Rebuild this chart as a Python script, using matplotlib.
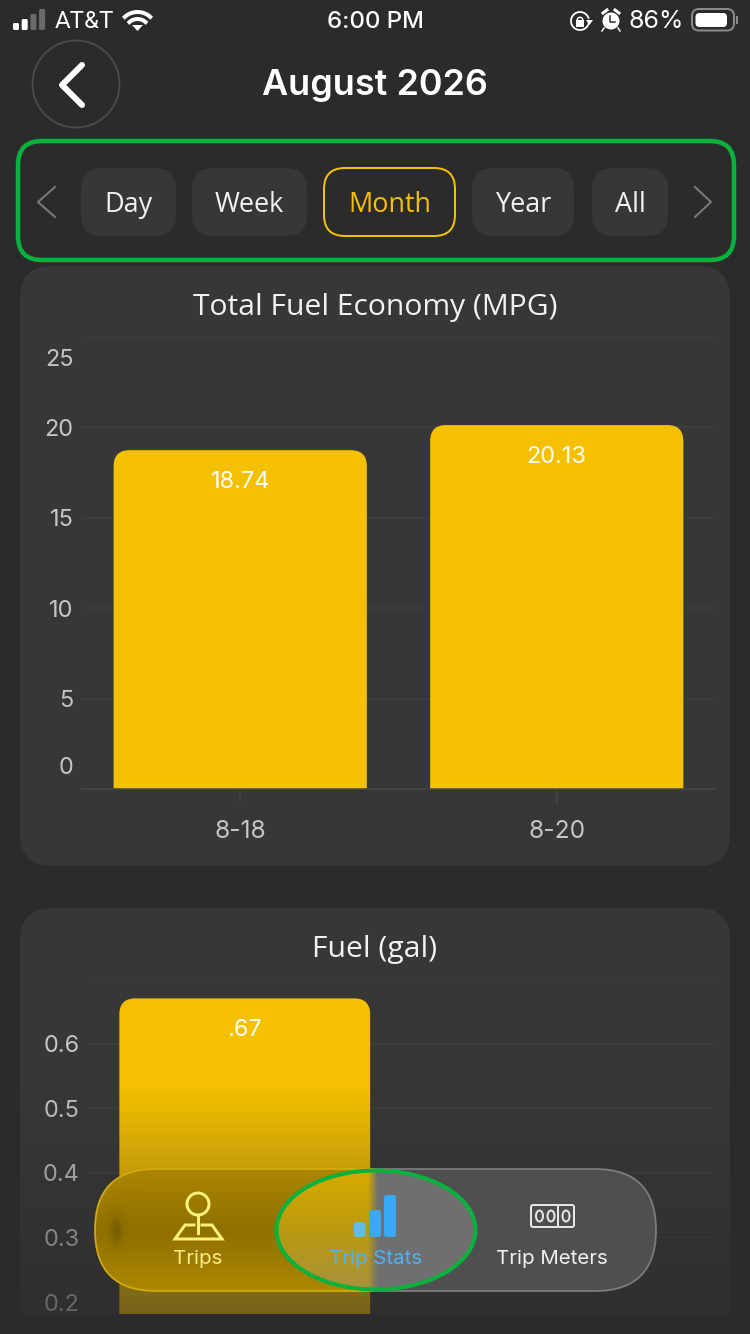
import matplotlib
matplotlib.use("Agg")
import matplotlib.pyplot as plt
from matplotlib.patches import Circle, Ellipse, FancyBboxPatch, PathPatch, Polygon, Rectangle
from matplotlib.path import Path
from matplotlib.transforms import ScaledTranslation
import numpy as np

W, H = 750, 1334
DPI = 100

BG = "#2b2b2b"
CARD = "#373737"
GRID = "#404040"
AXIS = "#464646"
YELLOW = "#f5c000"
GREEN = "#08b23c"
BLUE = "#38a8fb"

# chart data
mpg_dates = ["8-18", "8-20"]
mpg_values = [18.74, 20.13]
mpg_labels = ["18.74", "20.13"]
mpg_ticks = [0, 5, 10, 15, 20, 25]

fuel_dates = ["8-18"]
fuel_values = [0.67]
fuel_labels = [".67"]
fuel_ticks = [0.2, 0.3, 0.4, 0.5, 0.6, 0.7]
fuel_tick_labels = ["0.2", "0.3", "0.4", "0.5", "0.6", ""]

period_names = ["Day", "Week", "Month", "Year", "All"]
nav_names = ["Trips", "Trip Stats", "Trip Meters"]

INTER = ["Inter", "Roboto", "DejaVu Sans"]
ROBOTO = ["Roboto", "DejaVu Sans"]
OPEN = ["Open Sans", "DejaVu Sans"]


def pt(px):
    return px * 72 / DPI


def axes_from_px(fig, left, top, right, bottom, **kwargs):
    return fig.add_axes(
        [left / W, 1 - bottom / H, (right - left) / W, (bottom - top) / H], **kwargs
    )


def rounded_box(ax, x0, y0, x1, y1, r, **kwargs):
    box = FancyBboxPatch(
        (x0, y0), x1 - x0, y1 - y0, boxstyle=f"round,pad=0,rounding_size={r}", **kwargs
    )
    ax.add_patch(box)
    return box


def rounded_bar(ax, x, width, value, radius_px, color):
    # top corners only, radius given in pixels so it stays circular
    to_px = ax.transData.transform
    sx = abs(to_px((1, 0))[0] - to_px((0, 0))[0])
    sy = abs(to_px((0, 1))[1] - to_px((0, 0))[1])
    rx, ry = radius_px / sx, radius_px / sy
    x0, x1 = x - width / 2, x + width / 2
    base = ax.get_ylim()[0]
    verts = [
        (x0, base), (x0, value - ry), (x0, value), (x0 + rx, value),
        (x1 - rx, value), (x1, value), (x1, value - ry), (x1, base), (x0, base),
    ]
    codes = [
        Path.MOVETO, Path.LINETO, Path.CURVE3, Path.CURVE3,
        Path.LINETO, Path.CURVE3, Path.CURVE3, Path.LINETO, Path.CLOSEPOLY,
    ]
    ax.add_patch(PathPatch(Path(verts, codes), facecolor=color, edgecolor="none"))


def style_chart(ax, ticks, tick_labels):
    ax.patch.set_alpha(0)
    for name in ["top", "left", "right"]:
        ax.spines[name].set_visible(False)
    ax.set_yticks(ticks, labels=tick_labels)
    ax.tick_params(axis="y", length=0, pad=pt(8.5), labelsize=pt(23.5), labelcolor="#c6c6c6")
    ax.grid(axis="y", color=GRID, linewidth=pt(1.5))
    ax.set_axisbelow(True)
    for label in ax.get_yticklabels():
        label.set_family(INTER)


def draw_bars(ax, values, labels, width):
    for i, value in enumerate(values):
        rounded_bar(ax, i, width, value, 16, YELLOW)
        ax.annotate(
            labels[i], (i, value), xytext=(0, -32), textcoords="offset pixels",
            ha="center", va="center", color="white", fontsize=pt(23.5), family=INTER,
        )


fig = plt.figure(figsize=(W / DPI, H / DPI), dpi=DPI, facecolor=BG)

# cards go underneath the charts
back = fig.add_axes([0, 0, 1, 1], zorder=0)
back.set_xlim(0, W)
back.set_ylim(H, 0)
back.axis("off")
rounded_box(back, 20, 266, 730, 866, 32, facecolor=CARD, edgecolor="none")
rounded_box(back, 20, 908, 730, 1400, 32, facecolor=CARD, edgecolor="none")
back.text(375, 307, "Total Fuel Economy (MPG)", ha="center", va="center",
          color="#f2f2f2", fontsize=pt(30), family=OPEN)
back.text(375, 949, "Fuel (gal)", ha="center", va="center",
          color="#f2f2f2", fontsize=pt(30), family=OPEN)

# first chart
ax1 = axes_from_px(fig, 82, 337, 715, 789, zorder=1)
ax1.set_xlim(-0.5, 1.5)
ax1.set_ylim(0, 25)
style_chart(ax1, mpg_ticks, [str(t) for t in mpg_ticks])
ax1.spines["bottom"].set_color(AXIS)
ax1.spines["bottom"].set_linewidth(pt(1.5))
ax1.set_xticks(range(len(mpg_dates)), labels=mpg_dates)
ax1.tick_params(axis="x", length=pt(14), width=pt(1.5), color=AXIS, pad=pt(17),
                labelsize=pt(24.5), labelcolor="#c6c6c6")
for label in ax1.get_xticklabels():
    label.set_family(INTER)
# the end labels sit inside the axis range
labels1 = ax1.get_yticklabels()
labels1[0].set_transform(labels1[0].get_transform() + ScaledTranslation(0, 24 / DPI, fig.dpi_scale_trans))
labels1[-1].set_transform(labels1[-1].get_transform() + ScaledTranslation(0, -21 / DPI, fig.dpi_scale_trans))
draw_bars(ax1, mpg_values, mpg_labels, 0.8)

# second chart, cut off at the bottom of the screen
ax2 = axes_from_px(fig, 88, 979, 715, 1314, zorder=1)
ax2.set_xlim(-0.5, 1.5)
ax2.set_ylim(0.6 - (1314 - 1043) / 647.5, 0.7)
style_chart(ax2, fuel_ticks, fuel_tick_labels)
ax2.spines["bottom"].set_visible(False)
ax2.set_xticks([])
draw_bars(ax2, fuel_values, fuel_labels, 0.8)

# everything on top: fade, nav pill, header
ui = fig.add_axes([0, 0, 1, 1], zorder=2)
ui.patch.set_alpha(0)
ui.axis("off")

fade = np.zeros((229, 1, 4))
fade[:, 0, :3] = matplotlib.colors.to_rgb(BG)
fade[:, 0, 3] = np.linspace(0, 0.64, 229)
ui.imshow(fade, extent=(20, 730, 1314, 1085), aspect="auto", zorder=1)
ui.add_patch(Rectangle((0, 1314), W, 20, facecolor=BG, edgecolor="none", zorder=2))


def glass_image(x0, x1, y0, y1, gold_top, gold_mid, gold_bot, gray, split=373):
    nx, ny = int(x1 - x0), int(y1 - y0)
    xs = np.linspace(x0, x1, nx)
    t = np.linspace(0, 1, ny)[:, None]
    top, mid, bot = [np.array(matplotlib.colors.to_rgb(c)) for c in (gold_top, gold_mid, gold_bot)]
    gold = np.where(t < 0.5, top + (mid - top) * t * 2, mid + (bot - mid) * (t - 0.5) * 2)
    right = np.array(matplotlib.colors.to_rgb(gray))
    mix = np.clip((xs - split) / 10 + 0.5, 0, 1)[None, :, None]
    return gold[:, None, :] * (1 - mix) + right[None, None, :] * mix


pill_rgb = glass_image(95, 656, 1169, 1291, "#ab8600", "#8f7000", "#ad8800", "#4f4f4f")
# dark smudge where the bar edge shows through the glass
xx, yy = np.meshgrid(np.arange(pill_rgb.shape[1]) + 95, np.arange(pill_rgb.shape[0]) + 1169)
smudge = 1 - 0.16 * np.exp(-((xx - 116) / 6.0) ** 2 - ((yy - 1230) / 16.0) ** 2)
pill_rgb = pill_rgb * smudge[:, :, None]

pill = rounded_box(ui, 95, 1169, 656, 1291, 61, facecolor="none", edgecolor="none", zorder=3)
img = ui.imshow(pill_rgb, extent=(95, 656, 1291, 1169), aspect="auto", zorder=3)
img.set_clip_path(pill)

inner = Ellipse((376, 1230), 199, 119, facecolor="none", edgecolor="none", zorder=4)
ui.add_patch(inner)
img2 = ui.imshow(glass_image(276, 475, 1171, 1290, "#d6aa00", "#bb9a10", "#a8923c", "#6f6f6f"),
                 extent=(276, 475, 1290, 1171), aspect="auto", zorder=4)
img2.set_clip_path(inner)

for color, clip in [("#d2aa10", (90, 1160, 283, 140)), ("#7c7c7c", (373, 1160, 290, 140))]:
    edge = rounded_box(ui, 95, 1169, 656, 1291, 61, facecolor="none", edgecolor=color,
                       linewidth=pt(1.8), zorder=5)
    edge.set_clip_path(Rectangle(clip[:2], clip[2], clip[3], transform=ui.transData))

ui.add_patch(Ellipse((376, 1230), 199, 119, facecolor="none", edgecolor=GREEN,
                     linewidth=pt(4), zorder=6))

# trips icon
PIN = "#fdf07c"
ui.add_patch(Circle((198, 1204), 11, facecolor="none", edgecolor=PIN, linewidth=pt(3), zorder=7))
ui.plot([198, 198], [1215, 1233], color=PIN, linewidth=pt(3), zorder=7)
ui.plot([194, 185, 175, 222, 212, 202], [1225, 1225, 1239, 1239, 1225, 1225],
        color=PIN, linewidth=pt(3), solid_joinstyle="miter", zorder=7)

# stats icon
for x0, x1, top, color in [(354, 365.5, 1222, "#5cc0e2"), (369, 381, 1210, "#3aa9f0"), (384, 396, 1195, BLUE)]:
    rounded_box(ui, x0, top, x1, 1237, 2.5, facecolor=color, edgecolor="none", zorder=7)

# meters icon
rounded_box(ui, 531, 1205, 574, 1227, 2, facecolor="none", edgecolor="#e6e6e6", linewidth=pt(2), zorder=7)
ui.plot([558, 558], [1205, 1227], color="#e6e6e6", linewidth=pt(2), zorder=7)
for cx in [539.5, 551, 566]:
    ui.add_patch(Ellipse((cx, 1216), 7, 11, facecolor="none", edgecolor="#e6e6e6", linewidth=pt(2), zorder=7))

for name, cx, color in zip(nav_names, [198, 376, 552], ["#fdeb8a", "#4fb2f4", "#f2f2f2"]):
    ui.text(cx, 1259, name, ha="center", va="center", color=color,
            fontsize=pt(20.5), family=INTER, zorder=7)

# status bar
for i, (top, color) in enumerate(zip([23, 19, 14, 9], ["white", "white", "#6a6a6a", "#6a6a6a"])):
    rounded_box(ui, 13 + 8.7 * i, top, 19 + 8.7 * i, 30, 1.5, facecolor=color, edgecolor="none", zorder=7)
ui.text(55, 21, "AT&T", ha="left", va="center", color="white", fontsize=pt(24), family=ROBOTO, zorder=7)
for r in [19, 12]:
    ang = np.radians(np.linspace(48, 132, 30))
    ui.plot(137.5 + r * np.cos(ang), 31 - r * np.sin(ang), color="white", linewidth=pt(4), zorder=7)
ui.add_patch(Polygon([[137.5, 31], [132, 25], [143, 25]], facecolor="white", edgecolor="none", zorder=7))
ui.text(375, 22, "6:00 PM", ha="center", va="center", color="white", fontsize=pt(24),
        family=INTER, weight="medium", zorder=7)

# rotation lock
ang = np.radians(np.linspace(20, 340, 50))
ui.plot(580 + 9 * np.cos(ang), 21 + 9 * np.sin(ang), color="white", linewidth=pt(1.8), zorder=7)
ui.add_patch(Polygon([[586, 20], [593, 20], [589.5, 25]], facecolor="white", edgecolor="none", zorder=7))
ui.add_patch(Rectangle((576, 20), 8, 6.5, facecolor="white", edgecolor="none", zorder=7))
ang = np.radians(np.linspace(0, 180, 15))
ui.plot(580 + 2.7 * np.cos(ang), 20 - 2.7 * np.sin(ang), color="white", linewidth=pt(1.5), zorder=7)

# alarm
ui.add_patch(Circle((611, 21), 8.5, facecolor="white", edgecolor="none", zorder=7))
ui.plot([610, 610, 615], [15.5, 22, 22], color=BG, linewidth=pt(1.5), zorder=8)
ui.plot([603, 607], [13, 10], color="white", linewidth=pt(3), zorder=7)
ui.plot([619, 615], [13, 10], color="white", linewidth=pt(3), zorder=7)
ui.plot([604, 602], [28, 31], color="white", linewidth=pt(1.5), zorder=7)
ui.plot([618, 620], [28, 31], color="white", linewidth=pt(1.5), zorder=7)

ui.text(656.5, 22, "86%", ha="center", va="center", color="white", fontsize=pt(25), family=INTER, zorder=7)
rounded_box(ui, 692, 9, 734, 30.5, 7, facecolor="none", edgecolor="#8a8a8a", linewidth=pt(2), zorder=7)
rounded_box(ui, 695.5, 13, 727, 27, 4, facecolor="white", edgecolor="none", zorder=7)
ui.add_patch(Rectangle((736, 16), 1.8, 8, facecolor="#8a8a8a", edgecolor="none", zorder=7))

# header
ui.add_patch(Circle((76, 84), 43.5, facecolor="none", edgecolor="#4c4c4c", linewidth=pt(1.8), zorder=7))
ui.plot([82, 62, 82], [65, 85, 105], color="white", linewidth=pt(6), solid_capstyle="round",
        solid_joinstyle="round", zorder=7)
ui.text(375, 86, "August 2026", ha="center", va="center", color="white", fontsize=pt(36),
        family=INTER, weight="semibold", zorder=7)

# period selector
rounded_box(ui, 18, 141, 734, 260, 24, facecolor="none", edgecolor=GREEN, linewidth=pt(4.5), zorder=7)
button_edges = [(81, 176), (192, 307), (324, 455), (472, 574), (592, 668)]
for name, (x0, x1) in zip(period_names, button_edges):
    active = name == "Month"
    rounded_box(ui, x0, 168, x1, 236, 21, facecolor=BG if active else CARD,
                edgecolor=YELLOW if active else "none", linewidth=pt(2), zorder=7)
    ui.text((x0 + x1) / 2, 205, name, ha="center", va="center",
            color=YELLOW if active else "#f2f2f2", fontsize=pt(27), family=OPEN, zorder=8)
ui.plot([55, 38, 55], [187, 202, 217], color="#7a7a7a", linewidth=pt(2), zorder=7)
ui.plot([695, 711, 695], [187, 202, 217], color="#7a7a7a", linewidth=pt(2), zorder=7)

ui.set_xlim(0, W)
ui.set_ylim(H, 0)

fig.savefig("out.png", dpi=DPI, facecolor=BG)
